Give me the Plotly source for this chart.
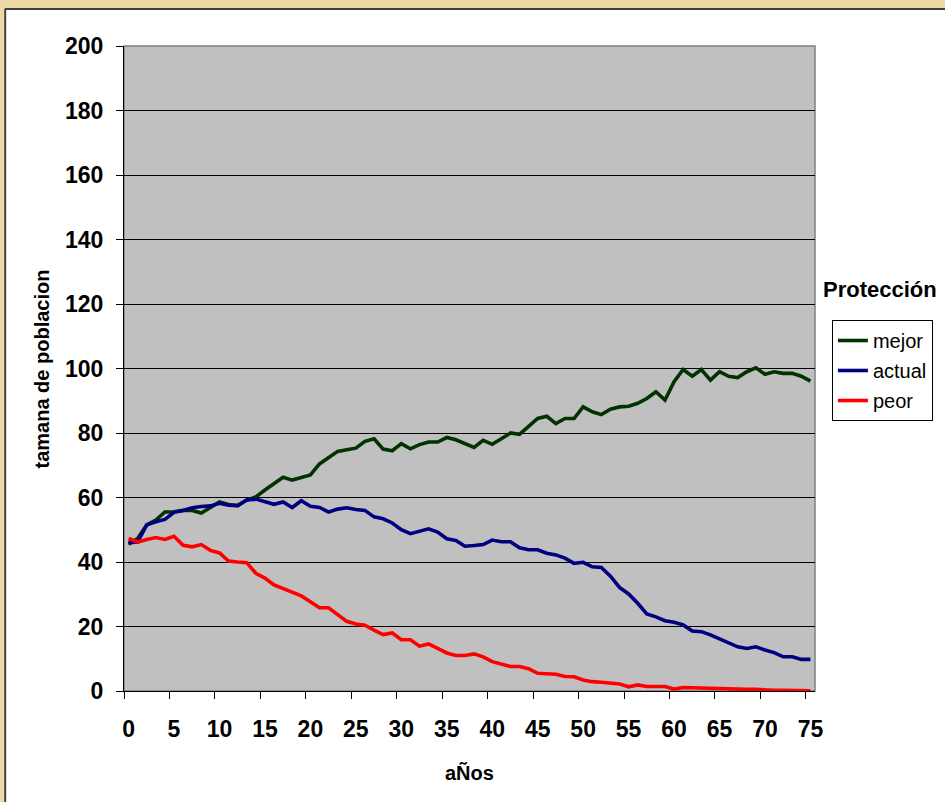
import plotly.graph_objects as go

years = list(range(0, 76))

mejor = [45.5, 47.3, 51.5, 53.0, 55.5, 55.6, 56.0, 56.0, 55.2, 57.0,
         58.6, 57.8, 57.5, 59.2, 60.2, 62.3, 64.4, 66.3, 65.4, 66.3,
         67.0, 70.4, 72.2, 74.3, 74.8, 75.3, 77.4, 78.2, 75.0, 74.5,
         76.7, 75.1, 76.4, 77.2, 77.2, 78.6, 77.9, 76.7, 75.5, 77.7,
         76.5, 78.2, 80.0, 79.6, 82.1, 84.5, 85.2, 82.9, 84.5, 84.5,
         88.1, 86.6, 85.7, 87.4, 88.1, 88.3, 89.2, 90.7, 92.8, 90.2,
         95.9, 99.7, 97.6, 99.7, 96.4, 99.0, 97.6, 97.2, 99.0, 100.2,
         98.2, 99.0, 98.5, 98.5, 97.6, 96.1]

actual = [46.0, 46.2, 51.5, 52.5, 53.2, 55.4, 56.0, 56.8, 57.2, 57.4,
          58.2, 57.6, 57.5, 59.2, 59.5, 58.6, 57.9, 58.6, 56.9, 59.0,
          57.3, 56.9, 55.5, 56.4, 56.8, 56.3, 56.0, 54.0, 53.4, 52.1,
          50.0, 48.8, 49.5, 50.3, 49.3, 47.2, 46.7, 44.9, 45.1, 45.4,
          46.8, 46.3, 46.3, 44.4, 43.8, 43.8, 42.7, 42.2, 41.2, 39.6,
          39.9, 38.5, 38.3, 35.6, 32.1, 30.1, 27.2, 23.9, 23.0, 21.8,
          21.3, 20.5, 18.6, 18.4, 17.4, 16.1, 14.8, 13.7, 13.2, 13.7,
          12.7, 11.9, 10.6, 10.6, 9.8, 9.8]

peor = [47.3, 46.2, 47.0, 47.6, 47.0, 48.0, 45.2, 44.7, 45.4, 43.6,
        42.8, 40.3, 40.0, 39.8, 36.5, 35.0, 32.9, 31.8, 30.8, 29.5,
        27.7, 25.8, 25.8, 23.7, 21.6, 20.8, 20.4, 18.9, 17.5, 18.0,
        15.9, 15.9, 13.9, 14.6, 13.3, 11.8, 11.0, 11.0, 11.5, 10.6,
        9.1, 8.3, 7.6, 7.6, 6.9, 5.5, 5.4, 5.2, 4.5, 4.4,
        3.4, 2.9, 2.7, 2.4, 2.2, 1.3, 1.9, 1.4, 1.4, 1.4,
        0.6, 1.1, 1.0, 0.9, 0.8, 0.6, 0.6, 0.5, 0.5, 0.5,
        0.3, 0.2, 0.2, 0.1, 0.1, 0.1]

series_names = ["mejor", "actual", "peor"]
series_colors = ["#003300", "#000080", "#FF0000"]
x_tick_labels = [str(v) for v in range(0, 76, 5)]
y_tick_values = list(range(0, 201, 20))

FONT = "Liberation Sans, Arial, sans-serif"
TAN = "#EED9A4"

W, H = 945, 802
ML, MR, MT, MB = 124, 126, 46, 111
PW, PH = W - ML - MR, H - MT - MB


def px2x(px):
    return (px - ML) / PW


def py2y(py):
    return (H - MB - py) / PH


fig = go.Figure()
for name, vals, col in zip(series_names, [mejor, actual, peor], series_colors):
    fig.add_trace(go.Scatter(x=years, y=vals, mode="lines", name=name,
                             line=dict(color=col, width=3.6),
                             legendgroup=name))

# invisible trace on second x axis so the tick-mark axis exists
fig.add_trace(go.Scatter(x=[-0.5, 75.5], y=[None, None], xaxis="x2",
                         showlegend=False, hoverinfo="skip"))

fig.update_layout(
    width=W, height=H,
    margin=dict(l=ML, r=MR, t=MT, b=MB),
    paper_bgcolor="white",
    plot_bgcolor="#C0C0C0",
    font=dict(family=FONT, color="black"),
    xaxis=dict(range=[-0.5, 75.5], tickvals=list(range(0, 76, 5)),
               ticktext=x_tick_labels, ticks="outside", ticklen=6,
               tickcolor="rgba(0,0,0,0)", ticklabelstandoff=11,
               showgrid=False, zeroline=False, showline=True,
               linecolor="black", linewidth=1,
               tickfont=dict(size=23, family=FONT, weight="bold")),
    xaxis2=dict(range=[-0.5, 75.5], overlaying="x", side="bottom",
                tickvals=[v - 0.5 for v in range(0, 76, 5)],
                showticklabels=False, ticks="outside", ticklen=7,
                tickcolor="black", showgrid=False, zeroline=False,
                showline=False),
    yaxis=dict(range=[0, 200], tickvals=y_tick_values, ticks="outside",
               ticklen=7, tickcolor="black", ticklabelstandoff=8,
               showgrid=True, gridcolor="black", gridwidth=1,
               zeroline=False, showline=True, linecolor="black",
               linewidth=1,
               tickfont=dict(size=23, family=FONT, weight="bold")),
    legend=dict(x=px2x(836), y=py2y(320), xanchor="left", yanchor="top",
                bgcolor="white", bordercolor="black", borderwidth=1,
                font=dict(size=20, family=FONT), tracegroupgap=1,
                itemwidth=30),
    showlegend=True,
)

# plot area grey border (Excel style)
fig.add_shape(type="rect", xref="x domain", yref="y domain", x0=0, x1=1,
              y0=0, y1=1, line=dict(color="#808080", width=1.5),
              layer="below")

# outer tan frame around the white chart area
fig.add_shape(type="rect", xref="paper", yref="paper",
              x0=px2x(-20), x1=px2x(W + 20), y0=py2y(8), y1=py2y(-20),
              fillcolor=TAN, line=dict(width=0), layer="below")
fig.add_shape(type="rect", xref="paper", yref="paper",
              x0=px2x(-20), x1=px2x(3.5), y0=py2y(H + 20), y1=py2y(8),
              fillcolor=TAN, line=dict(width=0), layer="below")
fig.add_shape(type="line", xref="paper", yref="paper",
              x0=px2x(4), x1=px2x(W + 20), y0=py2y(9), y1=py2y(9),
              line=dict(color="#404040", width=2), layer="below")
fig.add_shape(type="line", xref="paper", yref="paper",
              x0=px2x(4.5), x1=px2x(4.5), y0=py2y(H + 20), y1=py2y(9),
              line=dict(color="#404040", width=2), layer="below")

fig.add_annotation(text="<b>tamana de poblacion</b>", xref="paper",
                   yref="paper", x=px2x(42), y=py2y(369), textangle=-90,
                   xanchor="center", yanchor="middle",
                   showarrow=False, font=dict(size=20, family=FONT))
fig.add_annotation(text="<b>aÑos</b>", xref="paper", yref="paper",
                   x=px2x(471), y=py2y(773), xanchor="center",
                   yanchor="middle", showarrow=False,
                   font=dict(size=20, family=FONT))
fig.add_annotation(text="<b>Protección</b>", xref="paper", yref="paper",
                   x=px2x(825), y=py2y(289), xanchor="left",
                   yanchor="middle", showarrow=False,
                   font=dict(size=22, family=FONT))

fig.write_html("out.html",
               config={"displayModeBar": False},
               post_script="document.body.style.margin='0';"
                           "document.body.style.overflow='hidden';")
